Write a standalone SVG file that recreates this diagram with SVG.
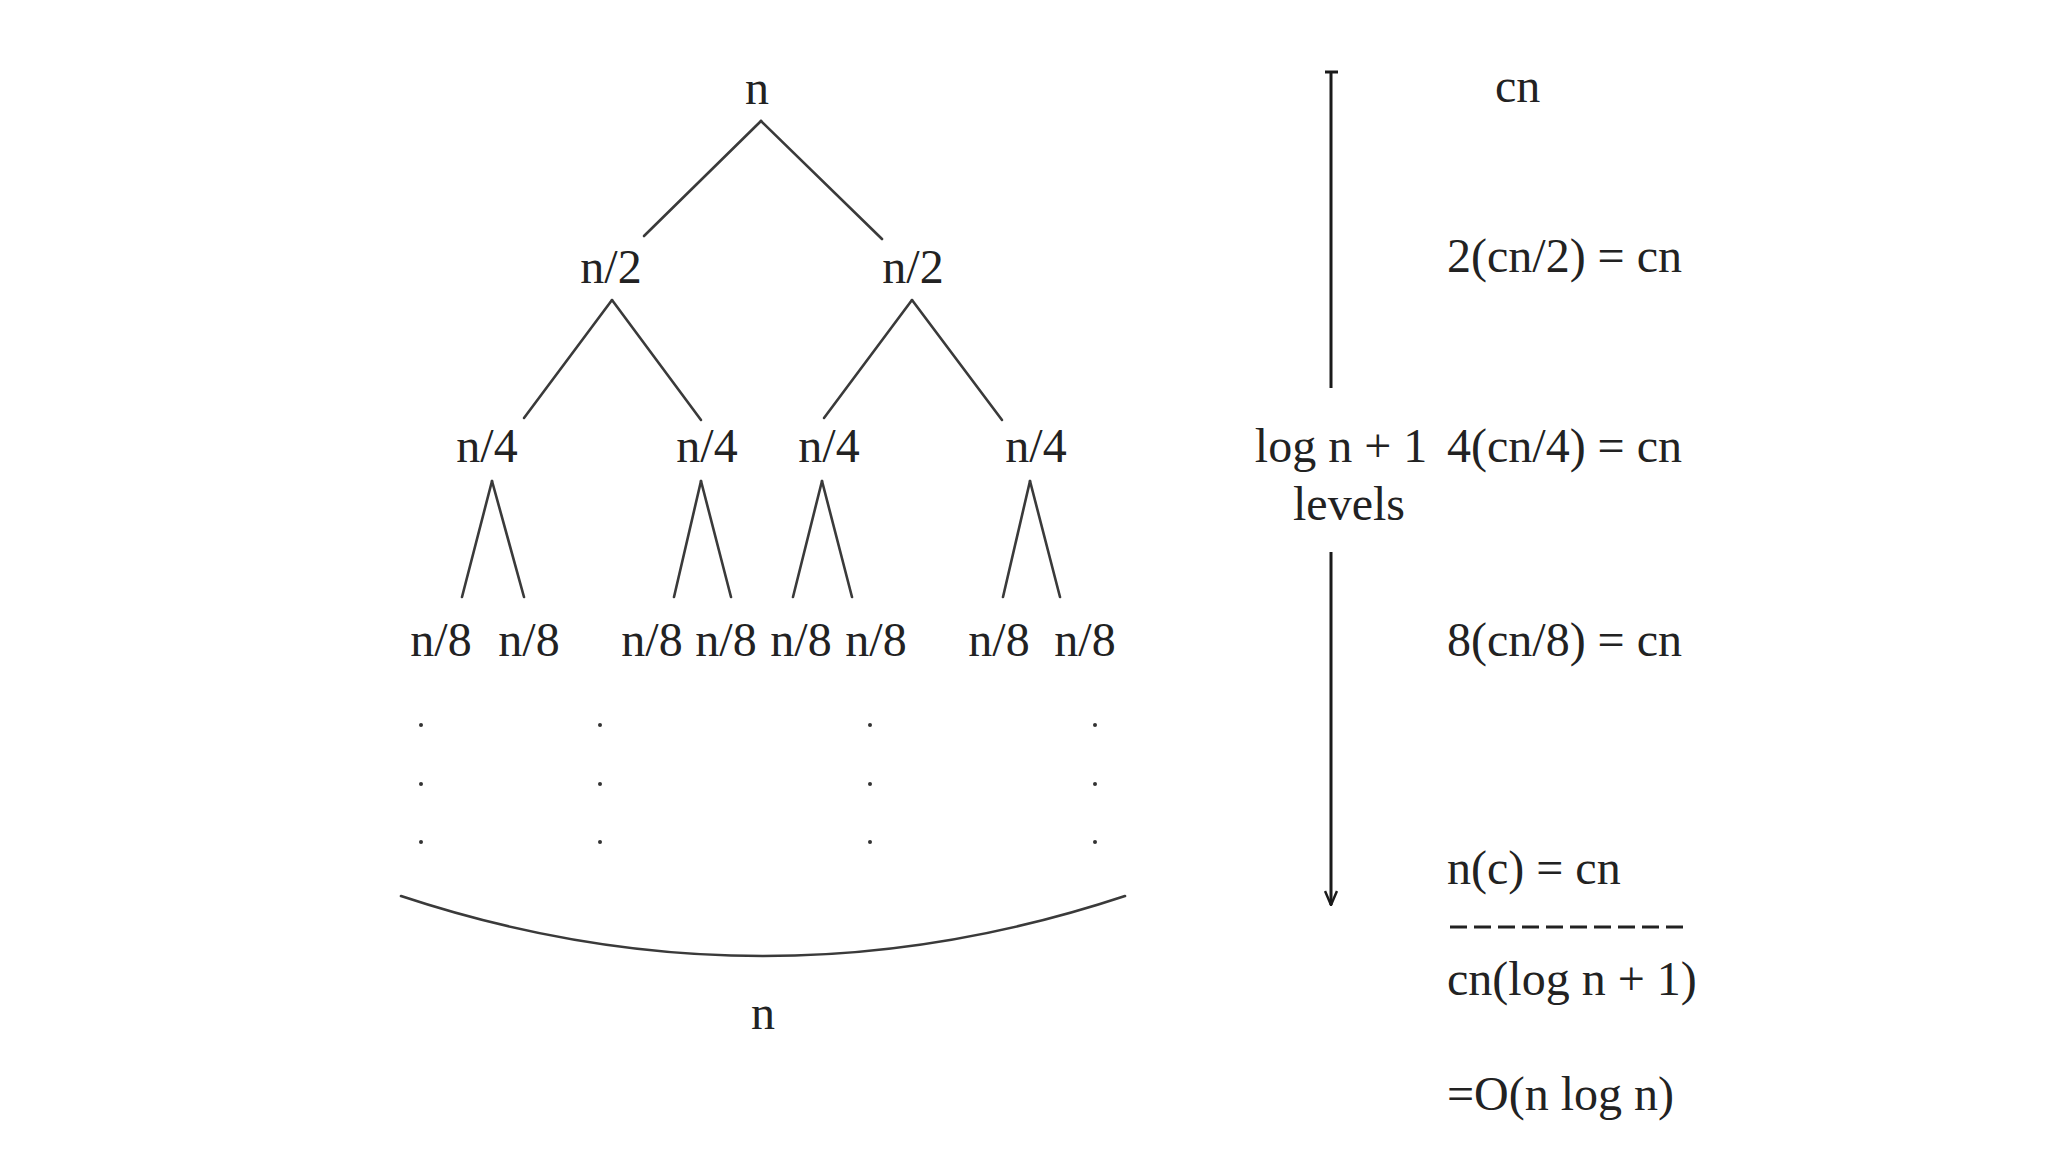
<svg xmlns="http://www.w3.org/2000/svg" width="2048" height="1152" viewBox="0 0 2048 1152">
<style>
text{font-family:"Liberation Serif","Times New Roman",serif;font-size:48px;fill:#222}
.m{text-anchor:middle}
.e{stroke:#3a3a3a;stroke-width:2.6;fill:none;stroke-linecap:round}
.a{stroke:#1a1a1a;stroke-width:3;fill:none}
.d{fill:#333}
</style>
<defs>
<marker id="ah" viewBox="0 0 16 14" refX="15" refY="7" markerWidth="16" markerHeight="14" markerUnits="userSpaceOnUse" orient="auto">
<path d="M1,1 L15,7 L1,13" fill="none" stroke="#1a1a1a" stroke-width="2.5"/>
</marker>
</defs>
<rect width="2048" height="1152" fill="#fff"/>
<g id="connectors">
<line class="e" x1="761" y1="121" x2="644" y2="236"/>
<line class="e" x1="761" y1="121" x2="882" y2="239"/>
<line class="e" x1="612" y1="300" x2="524" y2="418"/>
<line class="e" x1="612" y1="300" x2="701" y2="420"/>
<line class="e" x1="912" y1="300" x2="824" y2="418"/>
<line class="e" x1="912" y1="300" x2="1002" y2="420"/>
<line class="e" x1="492" y1="481" x2="462" y2="597"/>
<line class="e" x1="492" y1="481" x2="524" y2="597"/>
<line class="e" x1="701" y1="481" x2="674" y2="597"/>
<line class="e" x1="701" y1="481" x2="731" y2="597"/>
<line class="e" x1="822" y1="481" x2="793" y2="597"/>
<line class="e" x1="822" y1="481" x2="852" y2="597"/>
<line class="e" x1="1030" y1="481" x2="1003" y2="597"/>
<line class="e" x1="1030" y1="481" x2="1060" y2="597"/>
</g>
<g id="n-root"><text class="m" x="757" y="104">n</text></g>
<g id="n2-left"><text class="m" x="611" y="283">n/2</text></g>
<g id="n2-right"><text class="m" x="913" y="283">n/2</text></g>
<g id="n4-1"><text class="m" x="487" y="462">n/4</text></g>
<g id="n4-2"><text class="m" x="707" y="462">n/4</text></g>
<g id="n4-3"><text class="m" x="829" y="462">n/4</text></g>
<g id="n4-4"><text class="m" x="1036" y="462">n/4</text></g>
<g id="n8-1"><text class="m" x="441" y="656">n/8</text></g>
<g id="n8-2"><text class="m" x="529" y="656">n/8</text></g>
<g id="n8-3"><text class="m" x="652" y="656">n/8</text></g>
<g id="n8-4"><text class="m" x="726" y="656">n/8</text></g>
<g id="n8-5"><text class="m" x="801" y="656">n/8</text></g>
<g id="n8-6"><text class="m" x="876" y="656">n/8</text></g>
<g id="n8-7"><text class="m" x="999" y="656">n/8</text></g>
<g id="n8-8"><text class="m" x="1085" y="656">n/8</text></g>
<g id="dots">
<circle class="d" cx="421" cy="725" r="2"/><circle class="d" cx="421" cy="784" r="2"/><circle class="d" cx="421" cy="842" r="2"/>
<circle class="d" cx="600" cy="725" r="2"/><circle class="d" cx="600" cy="784" r="2"/><circle class="d" cx="600" cy="842" r="2"/>
<circle class="d" cx="870" cy="725" r="2"/><circle class="d" cx="870" cy="784" r="2"/><circle class="d" cx="870" cy="842" r="2"/>
<circle class="d" cx="1095" cy="725" r="2"/><circle class="d" cx="1095" cy="784" r="2"/><circle class="d" cx="1095" cy="842" r="2"/>
</g>
<g id="bottom-brace">
<path class="e" d="M401,896 Q763,1016 1125,896"/>
<text class="m" x="763" y="1029">n</text>
</g>
<g id="levels-arrow">
<line class="a" x1="1331" y1="72" x2="1331" y2="388"/>
<line class="a" x1="1325" y1="72" x2="1338" y2="72"/>
<line class="a" x1="1331" y1="552" x2="1331" y2="905" marker-end="url(#ah)"/>
<text class="m" x="1341" y="462">log n + 1</text>
<text class="m" x="1349" y="520">levels</text>
</g>
<g id="costs">
<text x="1495" y="102">cn</text>
<text x="1447" y="272">2(cn/2) = cn</text>
<text x="1447" y="462">4(cn/4) = cn</text>
<text x="1447" y="656">8(cn/8) = cn</text>
<text x="1447" y="884">n(c) = cn</text>
<line x1="1450" y1="927" x2="1688" y2="927" stroke="#222" stroke-width="3" stroke-dasharray="17,7"/>
<text x="1447" y="995">cn(log n + 1)</text>
<text x="1447" y="1110">=O(n log n)</text>
</g>
</svg>
